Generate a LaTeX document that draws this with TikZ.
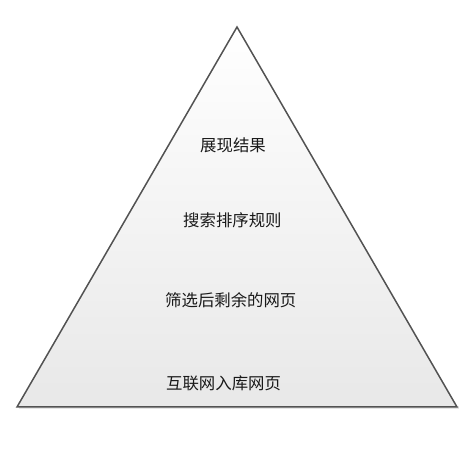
\documentclass[tikz,border=0pt]{standalone}
\usepackage{fontspec}
\newfontfamily\cjk{Noto Sans CJK SC}
\begin{document}
\begin{tikzpicture}[x=1pt,y=1pt,
  lbl/.style={font=\cjk\fontsize{16.4}{19}\selectfont, text=black!90, inner sep=0pt, anchor=west}]
\useasboundingbox (0,0) rectangle (475,475);
\fill[white] (0,0) rectangle (475,475);
% shadow
\fill[black!10] (19,66) -- (459,66) -- (459,68.5) -- (19,68.5) -- cycle;
\coordinate (A) at (237,448);
\coordinate (L) at (17,68);
\coordinate (R) at (457,68);
\shade[top color=white, bottom color=black!9] (A) -- (R) -- (L) -- cycle;
\draw[draw=black!68, line width=1.5pt, line join=miter] (A) -- (R) -- (L) -- cycle;
\node[lbl] (t1) at (200,330) {展现结果};
\node[lbl] (t2) at (183,255) {搜索排序规则};
\node[lbl] (t3) at (165,175) {筛选后剩余的网页};
\node[lbl] (t4) at (166,92) {互联网入库网页};
\end{tikzpicture}
\end{document}
